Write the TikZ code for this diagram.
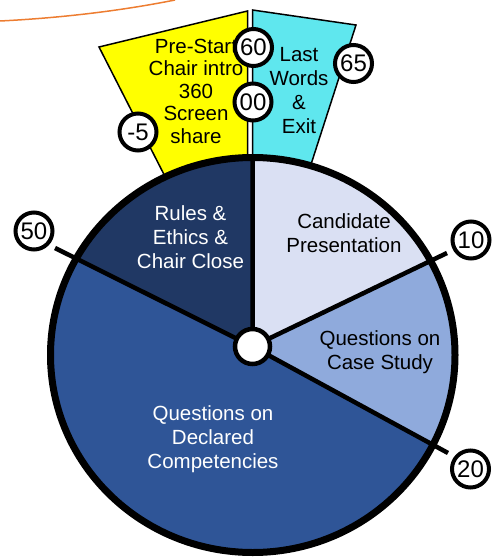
\documentclass[tikz,border=0pt]{standalone}
\usepackage{fontspec}
\setmainfont{Liberation Sans}
\usetikzlibrary{calc}
\definecolor{cLight}{HTML}{DAE0F3}
\definecolor{cMid}{HTML}{8FAADC}
\definecolor{cBig}{HTML}{2F5597}
\definecolor{cDark}{HTML}{203864}
\definecolor{cYellow}{HTML}{FFFF00}
\definecolor{cCyan}{HTML}{5FE7EE}
\definecolor{cOrange}{HTML}{ED7D31}
\begin{document}
\begin{tikzpicture}[x=1pt,y=-1pt,
  numc/.style={circle,draw=black,line width=4pt,fill=white,minimum size=37pt,inner sep=0pt,font=\fontsize{24}{24}\selectfont},
  lbl/.style={align=center,font=\fontsize{20.5}{24}\selectfont},
  tablet/.style={draw=black,line width=1.5pt},
  divider/.style={draw=black,line width=4.5pt},
  rim/.style={draw=black,line width=7pt}
]
\useasboundingbox (0,0) rectangle (491,559);
% orange curve
\draw[cOrange,line width=1.5pt] (0,21) .. controls (60,18) and (120,11) .. (175,0);
% top tabs
\filldraw[tablet,fill=cYellow] (99,47) -- (247.5,11) -- (247.5,200) -- (177,200) -- cycle;
\filldraw[tablet,fill=cCyan] (252.5,10) -- (356,25) -- (299.5,200) -- (252.5,200) -- cycle;
% pie geometry
\coordinate (C) at (252.75,355);
\coordinate (H) at (252.5,346.5);
\coordinate (e0) at ($(C)+(-90:202.25 and 197.5)$);
\coordinate (e10) at ($(C)+(-28.3:202.25 and 197.5)$);
\coordinate (e20) at ($(C)+(27.1:202.25 and 197.5)$);
\coordinate (e50) at ($(C)+(208.8:202.25 and 197.5)$);
\coordinate (t10) at (447,253);
\coordinate (t20) at (448,453);
\coordinate (t50) at (55,248);
% sectors
\fill[cLight] (H) -- (e0) arc[start angle=-90,end angle=-28.3,x radius=202.25,y radius=197.5] -- cycle;
\fill[cMid] (H) -- (e10) arc[start angle=-28.3,end angle=27.1,x radius=202.25,y radius=197.5] -- cycle;
\fill[cBig] (H) -- (e20) arc[start angle=27.1,end angle=208.8,x radius=202.25,y radius=197.5] -- cycle;
\fill[cDark] (H) -- (e50) arc[start angle=208.8,end angle=270,x radius=202.25,y radius=197.5] -- cycle;
% dividers and ticks
\draw[divider] (H) -- (e0);
\draw[divider] (H) -- (t10);
\draw[divider] (H) -- (t20);
\draw[divider] (H) -- (t50);
% rim
\draw[rim] (C) ellipse [x radius=202.25, y radius=197.5];
% hub
\node[circle,draw=black,line width=4.5pt,fill=white,minimum size=35pt,inner sep=0pt] (hub) at (H) {};
% labels
\node[lbl] (cand) at (344,233) {Candidate\\Presentation};
\node[lbl] (case) at (380,352) {Questions on\\Case Study};
\node[lbl,text=white] (rules) at (190.5,237) {Rules \&\\Ethics \&\\Chair Close};
\node[lbl,text=white] (comp) at (213,439) {Questions on\\Declared\\Competencies};
\node[lbl,font=\fontsize{20.5}{22.5}\selectfont] (pre) at (196,91) {Pre-Start\\Chair intro\\360\\Screen\\share};
\node[lbl] (last) at (299,91) {Last\\Words\\\&\\Exit};
% number badges
\node[numc] (n60) at (253.5,47.5) {60};
\node[numc] (n00) at (253,102) {00};
\node[numc] (nm5) at (138,132) {-5};
\node[numc] (n65) at (353.5,63.5) {65};
\node[numc] (n50) at (34,231) {50};
\node[numc] (n10) at (471,240) {10};
\node[numc] (n20) at (470.5,469) {20};
\end{tikzpicture}
\end{document}
